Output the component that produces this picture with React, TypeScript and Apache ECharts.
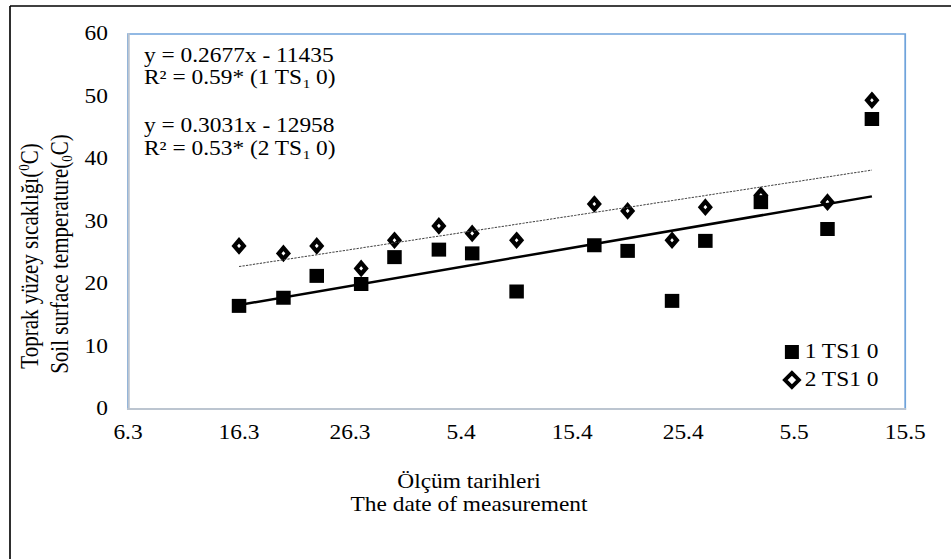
import React, { useEffect, useRef } from "react";
import * as echarts from "echarts";

// ---- data ----
const YEAR = 2017;
const tickLabels = ["6.3", "16.3", "26.3", "5.4", "15.4", "25.4", "5.5", "15.5"];
const measurementDates = ["16.3", "20.3", "23.3", "27.3", "30.3", "3.4", "6.4", "10.4", "17.4", "20.4", "24.4", "27.4", "2.5", "8.5", "12.5"];
const series1Values = [16.5, 17.8, 21.3, 20.0, 24.3, 25.5, 24.9, 18.8, 26.2, 25.3, 17.3, 26.9, 33.1, 28.8, 46.4];
const series2Values = [26.1, 24.9, 26.1, 22.5, 27.0, 29.3, 28.1, 27.0, 32.8, 31.7, 27.0, 32.3, 34.2, 33.1, 49.4];
const seriesNames = ["1 TS1 0", "2 TS1 0"];
const yMin = 0;
const yMax = 60;
const yInterval = 10;
const xInterval = 10;

const eq1 = "y = 0.2677x - 11435";
const r1 = ["R² = 0.59* (1 TS", "1", " 0)"];
const eq2 = "y = 0.3031x - 12958";
const r2 = ["R² = 0.53* (2 TS", "1", " 0)"];
const yTitle1 = ["Toprak yüzey sıcaklığı(", "0", "C)"];
const yTitle2 = ["Soil surface temperature(", "0", "C)"];
const xTitle1 = "Ölçüm tarihleri";
const xTitle2 = "The date of measurement";

const FONT = "'Liberation Serif', 'Times New Roman', serif";
// the reference figure is stretched horizontally
const S = 1.17;
const W = 951 / S;
const H = 559;
const px = (v: number) => v / S;

function dayOffset(s: string): number {
  const [d, m] = s.split(".").map(Number);
  const [d0, m0] = tickLabels[0].split(".").map(Number);
  return Math.round((Date.UTC(YEAR, m - 1, d) - Date.UTC(YEAR, m0 - 1, d0)) / 86400000);
}

function regression(xs: number[], ys: number[]) {
  const n = xs.length;
  const mx = xs.reduce((a, b) => a + b, 0) / n;
  const my = ys.reduce((a, b) => a + b, 0) / n;
  let sxy = 0, sxx = 0;
  for (let i = 0; i < n; i++) {
    sxy += (xs[i] - mx) * (ys[i] - my);
    sxx += (xs[i] - mx) * (xs[i] - mx);
  }
  const b = sxy / sxx;
  const a = my - b * mx;
  const x0 = Math.min(...xs), x1 = Math.max(...xs);
  return [[x0, a + b * x0], [x1, a + b * x1]];
}

export default function App() {
  const ref = useRef<HTMLDivElement>(null);
  useEffect(() => {
    const chart = echarts.init(ref.current!, null, { renderer: "svg" });
    const xs = measurementDates.map(dayOffset);
    const s1 = xs.map((x, i) => [x, series1Values[i]]);
    const s2 = xs.map((x, i) => [x, series2Values[i]]);
    const t1 = regression(xs, series1Values);
    const t2 = regression(xs, series2Values);
    const xMax = dayOffset(tickLabels[tickLabels.length - 1]);

    const FS = 20;
    const main = { fontSize: FS, fontFamily: FONT, lineHeight: 22, verticalAlign: "top", fill: "#000", color: "#000" };
    const sub = { fontSize: 13, fontFamily: FONT, lineHeight: 13, padding: [15, 0, 0, 0], verticalAlign: "bottom", fill: "#000", color: "#000" };
    const mainV = { ...main, fontSize: 21 };
    const mainB = { fontSize: 21, fontFamily: FONT, lineHeight: 22, verticalAlign: "bottom", fill: "#000", color: "#000" };
    const sup = { fontSize: 13, fontFamily: FONT, lineHeight: 13, verticalAlign: "top", fill: "#000", color: "#000" };

    const option: any = {
      animation: false,
      backgroundColor: "#fff",
      grid: {
        left: px(128),
        right: W - px(905),
        top: 34,
        bottom: 150,
        show: true,
        borderColor: "#6FA3DB",
        borderWidth: 1.5,
        backgroundColor: "transparent",
      },
      xAxis: {
        type: "value",
        min: 0,
        max: xMax,
        interval: xInterval,
        axisLine: { show: true, onZero: false, lineStyle: { color: "#BCC5D0", width: 2 } },
        axisTick: { show: false },
        splitLine: { show: false },
        axisLabel: {
          margin: 14,
          fontSize: FS,
          fontFamily: FONT,
          color: "#000",
          formatter: (v: number) => tickLabels[Math.round(v / xInterval)] ?? "",
        },
      },
      yAxis: {
        type: "value",
        min: yMin,
        max: yMax,
        interval: yInterval,
        axisLine: { show: true, lineStyle: { color: "#BCC5D0", width: 1.8 } },
        axisTick: { show: false },
        splitLine: { show: false },
        axisLabel: { margin: px(20), fontSize: FS, fontFamily: FONT, color: "#000" },
      },
      legend: {
        orient: "vertical",
        left: px(777),
        top: 337,
        itemWidth: px(14),
        itemHeight: 14,
        itemGap: 8,
        textStyle: { fontSize: FS, fontFamily: FONT, color: "#000" },
        data: [
          { name: seriesNames[0] },
          { name: seriesNames[1], itemStyle: { borderWidth: 3.5 } },
        ],
      },
      series: [
        {
          name: seriesNames[1],
          type: "scatter",
          data: s2,
          symbol: "diamond",
          symbolSize: [px(16) - 5.6, 11],
          itemStyle: { color: "#fff", borderColor: "#000", borderWidth: 4, opacity: 1 },
        },
        {
          name: seriesNames[0],
          type: "scatter",
          data: s1,
          symbol: "rect",
          symbolSize: [px(14.5), 14],
          itemStyle: { color: "#000", opacity: 1 },
        },
        {
          name: "trend1",
          type: "line",
          data: t1,
          showSymbol: false,
          silent: true,
          lineStyle: { color: "#000", width: 2.5 },
        },
        {
          name: "trend2",
          type: "line",
          data: t2,
          showSymbol: false,
          silent: true,
          lineStyle: { color: "#444", width: 1, type: [2, 1] },
        },
      ],
      graphic: [
        { type: "line", shape: { x1: px(10), y1: 6, x2: W, y2: 6 }, style: { stroke: "#000", lineWidth: 1.5 } },
        { type: "line", shape: { x1: px(10), y1: 6, x2: px(10), y2: H }, style: { stroke: "#000", lineWidth: 1.4 } },
        {
          type: "text", left: px(144), top: 45,
          style: { text: eq1, fontSize: FS, fontFamily: FONT, lineHeight: 22, fill: "#000" },
        },
        {
          type: "text", left: px(144), top: 62,
          style: { text: `{m|${r1[0]}}{s|${r1[1]}}{m|${r1[2]}}`, rich: { m: main, s: sub } },
        },
        {
          type: "text", left: px(144), top: 115,
          style: { text: eq2, fontSize: FS, fontFamily: FONT, lineHeight: 22, fill: "#000" },
        },
        {
          type: "text", left: px(144), top: 133,
          style: { text: `{m|${r2[0]}}{s|${r2[1]}}{m|${r2[2]}}`, rich: { m: main, s: sub } },
        },
        {
          type: "text", x: px(29), y: 256, rotation: Math.PI / 2,
          style: {
            text: `{m|${yTitle1[0]}}{p|${yTitle1[1]}}{m|${yTitle1[2]}}`,
            rich: { m: mainB, p: sup },
            align: "center", verticalAlign: "middle",
          },
        },
        {
          type: "text", x: px(61), y: 254, rotation: Math.PI / 2,
          style: {
            text: `{m|${yTitle2[0]}}{s|${yTitle2[1]}}{m|${yTitle2[2]}}`,
            rich: { m: mainV, s: sub },
            align: "center", verticalAlign: "middle",
          },
        },
        {
          type: "text", x: px(469), y: 482,
          style: { text: xTitle1, fontSize: FS, fontFamily: FONT, fill: "#000", align: "center", verticalAlign: "middle" },
        },
        {
          type: "text", x: px(469), y: 505,
          style: { text: xTitle2, fontSize: FS, fontFamily: FONT, fill: "#000", align: "center", verticalAlign: "middle" },
        },
      ],
    };
    chart.setOption(option);
    return () => chart.dispose();
  }, []);
  return (
    <div style={{ position: "fixed", left: 0, top: 0, width: 951, height: H, overflow: "hidden", background: "#fff" }}>
      <div
        ref={ref}
        style={{ width: W, height: H, transform: `scaleX(${S})`, transformOrigin: "0 0" }}
      />
    </div>
  );
}
